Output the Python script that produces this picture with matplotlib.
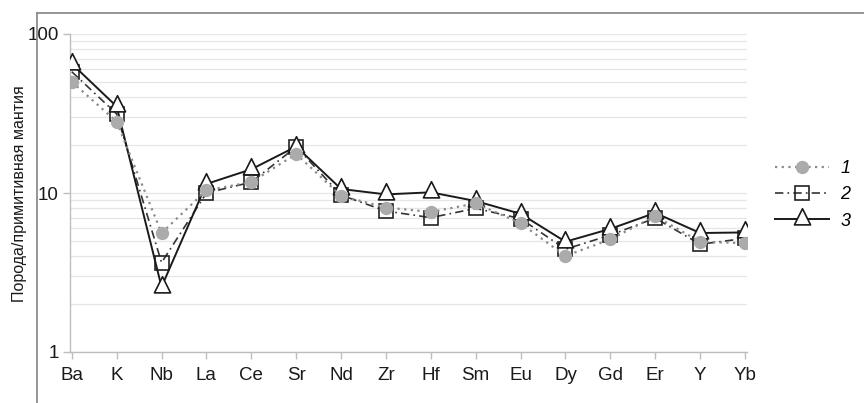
import matplotlib
matplotlib.use('Agg')
import matplotlib.pyplot as plt
from matplotlib.lines import Line2D
from matplotlib.path import Path
from matplotlib.ticker import LogLocator, FixedLocator, NullFormatter

plt.rcParams['font.family'] = ['Liberation Sans', 'DejaVu Sans']

elements = ['Ba', 'K', 'Nb', 'La', 'Ce', 'Sr', 'Nd', 'Zr', 'Hf', 'Sm', 'Eu',
            'Dy', 'Gd', 'Er', 'Y', 'Yb']
series1 = [50, 28.1, 5.6, 10.4, 11.7, 17.6, 9.6, 8.1, 7.6, 8.6, 6.45,
           4.02, 5.11, 7.15, 4.94, 4.83]
series2 = [57.9, 31.4, 3.65, 10.0, 11.7, 19.5, 9.7, 7.7, 7.0, 8.0, 6.9,
           4.43, 5.44, 6.95, 4.76, 5.18]
series3 = [65.0, 35.0, 2.57, 11.4, 14.1, 19.6, 10.6, 9.8, 10.1, 8.9, 7.4,
           4.94, 5.95, 7.5, 5.6, 5.65]
labels = ['1', '2', '3']
ylabel = 'Порода/примитивная мантия'

# triangle with its centroid at the data point
tri = Path([(0, 1), (-0.75, -0.5), (0.75, -0.5), (0, 1)],
           [Path.MOVETO, Path.LINETO, Path.LINETO, Path.CLOSEPOLY])

fig = plt.figure(figsize=(8.64, 4.03), dpi=100)
ax = fig.add_axes([70 / 864, 1 - 352 / 403, (747 - 70) / 864, (352 - 34) / 403])

x = list(range(len(elements)))

l2, = ax.plot(x, series2, color='#333333', lw=1.2, linestyle=(0, (5, 2.5, 1, 2.5)),
              marker='s', markersize=9.4, markerfacecolor='none',
              markeredgecolor='#222222', markeredgewidth=1.2, zorder=3)
l3, = ax.plot(x, series3, color='#1a1a1a', lw=1.4, linestyle='-',
              marker=tri, markersize=15.5, markerfacecolor='white',
              markeredgecolor='#1a1a1a', markeredgewidth=1.2, zorder=4)
l1, = ax.plot(x, series1, color='#8a8a8a', lw=1.6, linestyle=(0, (1, 2)),
              marker='o', markersize=9.6, markerfacecolor='#ababab',
              markeredgecolor='#ababab', markeredgewidth=0, zorder=5)

ax.set_yscale('log')
ax.set_ylim(1, 100)
ax.set_xlim(-0.04, 15.045)

ax.yaxis.set_major_locator(FixedLocator([1, 10, 100]))
ax.set_yticklabels(['1', '10', '100'])
ax.yaxis.set_minor_locator(LogLocator(base=10, subs=range(2, 10)))
ax.yaxis.set_minor_formatter(NullFormatter())
ax.grid(True, which='both', axis='y', color='#e6e6e6', lw=0.9)
ax.set_axisbelow(True)

ax.set_xticks(x)
ax.set_xticklabels(elements)

for s in ['top', 'right']:
    ax.spines[s].set_visible(False)
for s in ['left', 'bottom']:
    ax.spines[s].set_color('#bdbdbd')
    ax.spines[s].set_linewidth(1.0)

ax.tick_params(axis='both', which='major', labelsize=13.5, colors='#bdbdbd',
               labelcolor='#1a1a1a', length=5, width=1.0)
ax.tick_params(axis='y', which='minor', length=0)
ax.tick_params(axis='x', pad=6)
ax.tick_params(axis='y', pad=3)

fig.text(20 / 864, 1 - 194 / 403, ylabel, rotation=90, ha='center', va='center',
         fontsize=11.5, color='#1a1a1a')

leg = fig.legend([l1, l2, l3], labels, loc='center left',
                 bbox_to_anchor=(759 / 864, 1 - 195 / 403), frameon=False,
                 handlelength=3.0, handletextpad=0.6, labelspacing=0.5,
                 prop={'size': 13, 'style': 'italic'})

# outer chart frame (top and left edges visible)
fig.add_artist(Line2D([37 / 864, 1], [1 - 13 / 403, 1 - 13 / 403],
                      transform=fig.transFigure, color='#8c8c8c', lw=1.3))
fig.add_artist(Line2D([37 / 864, 37 / 864], [0, 1 - 13 / 403],
                      transform=fig.transFigure, color='#8c8c8c', lw=1.3))

fig.savefig('out.png', dpi=100)
